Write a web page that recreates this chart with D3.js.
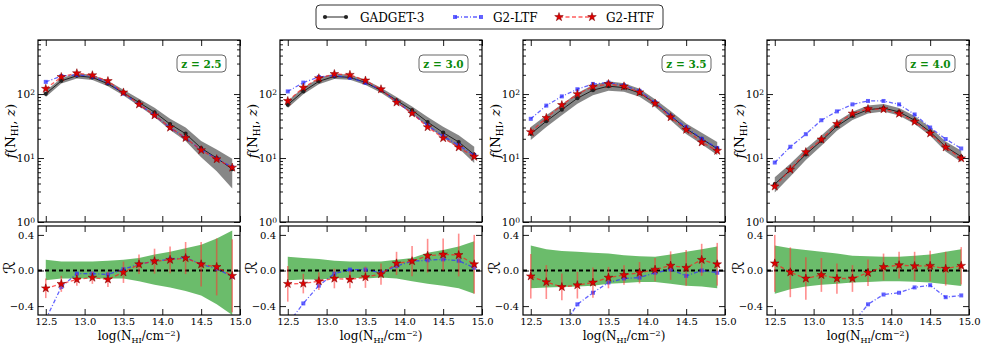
<!DOCTYPE html>
<html>
<head>
<meta charset="utf-8">
<script src="https://cdn.jsdelivr.net/npm/d3@7"></script>
<style>
  body { margin: 0; background: #fff; }
  svg { font-family: "DejaVu Serif", serif; }
</style>
</head>
<body>
<div id="chart"></div>
<script>
// ---------------------------------------------------------------
// data (one row per redshift panel)
// ---------------------------------------------------------------
var nhi = [12.5, 12.7, 12.9, 13.1, 13.3, 13.5, 13.7, 13.9, 14.1, 14.3, 14.5, 14.7, 14.9];
var zLabels = ["2.5", "3.0", "3.5", "4.0"];

// f(N_HI, z)
var gadget = [
  [101, 161, 193, 182, 145, 104, 74, 52, 34, 24, 14.3, 10, 6.7],
  [68, 110, 158, 189, 182, 152, 114, 80, 56, 36.5, 25, 17.8, 11.3],
  [23.9, 37.6, 57, 86, 115, 133, 126, 104, 72, 46, 28.6, 20, 14],
  [3.9, 6.5, 11.4, 18.6, 31.4, 45.5, 57, 60.5, 52.5, 39, 25.7, 15, 10.5]
];
var ltf = [
  [155, 191, 200, 188, 152, 102, 69, 46.5, 29.8, 20.5, 13.3, 9.8, 7.2],
  [110, 151, 185, 196, 180, 150, 117, 76, 50, 32.3, 21.9, 15.8, 11],
  [41, 66, 92, 119, 144, 151, 137, 112, 74, 45.5, 30.3, 20, 14.4],
  [8.5, 15, 23.6, 39, 53.6, 69, 78, 78, 69, 48, 30, 19.8, 14.1]
];
var htf = [
  [121, 185, 212, 197, 160, 106, 69, 46.5, 30, 20.6, 13.3, 9.6, 7.1],
  [78, 126, 177, 206, 200, 163, 119, 74, 50, 30.4, 20.5, 14.7, 10.5],
  [25.5, 42.5, 67.5, 100, 130.5, 143.6, 132, 106.6, 71.3, 43.5, 27.7, 17.6, 13],
  [3.6, 6.6, 12.4, 19.5, 34.2, 49.6, 58.4, 58, 49.4, 37, 24.3, 14.7, 9.9]
];

// relative error of GADGET-3 (green band below, grey band above)
var errHi = [
  [0.12, 0.10, 0.10, 0.10, 0.11, 0.12, 0.14, 0.18, 0.21, 0.25, 0.29, 0.36, 0.45],
  [0.155, 0.14, 0.13, 0.11, 0.10, 0.10, 0.10, 0.12, 0.14, 0.20, 0.23, 0.27, 0.33],
  [0.28, 0.24, 0.22, 0.21, 0.20, 0.19, 0.17, 0.16, 0.155, 0.18, 0.21, 0.24, 0.27],
  [0.28, 0.25, 0.23, 0.21, 0.19, 0.165, 0.16, 0.155, 0.155, 0.165, 0.18, 0.21, 0.24]
];
var errLo = [
  [-0.11, -0.09, -0.09, -0.09, -0.09, -0.09, -0.12, -0.16, -0.19, -0.23, -0.28, -0.38, -0.5],
  [-0.11, -0.10, -0.10, -0.09, -0.08, -0.09, -0.08, -0.09, -0.12, -0.15, -0.17, -0.20, -0.26],
  [-0.20, -0.19, -0.185, -0.18, -0.17, -0.15, -0.14, -0.13, -0.13, -0.15, -0.17, -0.18, -0.20],
  [-0.26, -0.21, -0.18, -0.16, -0.15, -0.135, -0.13, -0.12, -0.12, -0.125, -0.135, -0.155, -0.175]
];

// residuals R
var rLtf = [
  [-0.55, -0.185, -0.035, -0.035, -0.045, 0.015, 0.07, 0.105, 0.125, 0.145, 0.07, 0.02, -0.07],
  [-0.6, -0.37, -0.17, -0.035, 0.01, 0.01, -0.025, 0.05, 0.105, 0.115, 0.125, 0.11, 0.03],
  [-0.72, -0.75, -0.65, -0.38, -0.25, -0.135, -0.09, -0.08, -0.025, 0.01, -0.06, 0.0, -0.025],
  [-1.18, -1.3, -1.07, -1.1, -0.7, -0.6, -0.38, -0.27, -0.25, -0.19, -0.165, -0.30, -0.28]
];
var rHtf = [
  [-0.20, -0.15, -0.10, -0.08, -0.10, -0.02, 0.07, 0.105, 0.12, 0.14, 0.07, 0.04, -0.06],
  [-0.15, -0.147, -0.12, -0.09, -0.10, -0.075, -0.04, 0.08, 0.105, 0.166, 0.18, 0.174, 0.07],
  [-0.065, -0.13, -0.185, -0.165, -0.135, -0.08, -0.05, -0.025, 0.01, 0.055, 0.03, 0.12, 0.07],
  [0.08, -0.02, -0.09, -0.05, -0.09, -0.09, -0.025, 0.04, 0.06, 0.05, 0.053, 0.02, 0.053]
];
var rHtfErr = [
  [0.11, 0.09, 0.07, 0.07, 0.085, 0.12, 0.11, 0.14, 0.15, 0.18, 0.25, 0.32, 0.41],
  [0.20, 0.11, 0.10, 0.11, 0.10, 0.12, 0.12, 0.13, 0.17, 0.19, 0.18, 0.24, 0.33],
  [0.25, 0.19, 0.15, 0.15, 0.17, 0.12, 0.11, 0.12, 0.13, 0.16, 0.20, 0.18, 0.24],
  [0.32, 0.28, 0.24, 0.19, 0.17, 0.15, 0.15, 0.15, 0.15, 0.16, 0.17, 0.19, 0.21]
];

var xTicks = [12.5, 13.0, 13.5, 14.0, 14.5, 15.0];
var logTicks = [1, 10, 100];
var logMinor = [2, 3, 4, 5, 6, 7, 8, 9, 20, 30, 40, 50, 60, 70, 80, 90, 200, 300, 400, 500, 600, 700];
var rTicks = [-0.4, 0.0, 0.4];

// ---------------------------------------------------------------
// canvas + layout
// ---------------------------------------------------------------
var width = 981, height = 347;
var panelLeft = [38, 280, 523, 767], panelW = 202;
var topBox = [40, 222], botBox = [226, 315];

var blue = "#2f2fff", red = "#ff1a1a", green = "#2ca02c";

var svg = d3.select("#chart").append("svg")
    .attr("width", width)
    .attr("height", height);

var star = d3.symbol().type(d3.symbolStar).size(23);
var square = d3.symbol().type(d3.symbolSquare).size(16);

function inward(g) {
  g.select(".domain").remove();
  g.selectAll(".tick line").attr("stroke", "#000").attr("stroke-width", 0.9);
  g.selectAll(".tick text").attr("fill", "#000");
}

zLabels.forEach(function(zl, i) {
  var left = panelLeft[i], right = left + panelW;
  var x = d3.scaleLinear().domain([12.4, 15.0]).range([left, right]);
  var yTop = d3.scaleLog().domain([1, 700]).range([topBox[1], topBox[0]]);
  var yBot = d3.scaleLinear().domain([-0.5, 0.5]).range([botBox[1], botBox[0]]);

  var defs = svg.append("defs");
  defs.append("clipPath").attr("id", "ct" + i).append("rect")
      .attr("x", left).attr("y", topBox[0]).attr("width", panelW).attr("height", topBox[1] - topBox[0]);
  defs.append("clipPath").attr("id", "cb" + i).append("rect")
      .attr("x", left).attr("y", botBox[0]).attr("width", panelW).attr("height", botBox[1] - botBox[0]);

  // ---------------- upper panel ----------------
  var gt = svg.append("g").attr("clip-path", "url(#ct" + i + ")");

  gt.append("path")
      .datum(nhi)
      .attr("fill", "#7a7a7a")
      .attr("opacity", 0.9)
      .attr("d", d3.area()
        .x(function(d) { return x(d); })
        .y0(function(d, j) { return yTop(Math.max(gadget[i][j] * (1 + errLo[i][j]), 1)); })
        .y1(function(d, j) { return yTop(gadget[i][j] * (1 + errHi[i][j])); }));

  var lineOf = function(arr) {
    return d3.line().x(function(d) { return x(d); }).y(function(d, j) { return yTop(arr[j]); });
  };

  gt.append("path").datum(nhi)
      .attr("fill", "none").attr("stroke", "#222").attr("stroke-width", 1)
      .attr("d", lineOf(gadget[i]));
  gt.selectAll(".gdot").data(nhi).enter().append("circle")
      .attr("cx", function(d) { return x(d); })
      .attr("cy", function(d, j) { return yTop(gadget[i][j]); })
      .attr("r", 2.1)
      .attr("fill", "#222");

  gt.append("path").datum(nhi)
      .attr("fill", "none").attr("stroke", blue).attr("stroke-width", 1.3)
      .attr("stroke-dasharray", "4,2,1,2").attr("opacity", 0.75)
      .attr("d", lineOf(ltf[i]));
  gt.selectAll(".ldot").data(nhi).enter().append("path")
      .attr("d", square)
      .attr("transform", function(d, j) { return "translate(" + x(d) + "," + yTop(ltf[i][j]) + ")"; })
      .attr("fill", blue).attr("opacity", 0.75);

  gt.append("path").datum(nhi)
      .attr("fill", "none").attr("stroke", red).attr("stroke-width", 1.3)
      .attr("stroke-dasharray", "4,2.5").attr("opacity", 0.7)
      .attr("d", lineOf(htf[i]));
  gt.selectAll(".hdot").data(nhi).enter().append("path")
      .attr("d", star)
      .attr("transform", function(d, j) { return "translate(" + x(d) + "," + yTop(htf[i][j]) + ")"; })
      .attr("fill", "#e00000").attr("stroke", "#700").attr("stroke-width", 0.5);

  // axes of upper panel
  var ax = svg.append("g").attr("transform", "translate(" + left + ",0)")
      .call(d3.axisLeft(yTop).tickValues(logTicks).tickSize(-6).tickPadding(3)
        .tickFormat(function() { return "10"; }))
      .call(inward);
  ax.selectAll(".tick text")
      .attr("font-size", 10.5)
      .attr("font-family", "DejaVu Serif")
      .each(function(d) {
        d3.select(this).append("tspan").attr("dy", "-0.45em").attr("font-size", 7.5)
          .text(Math.round(Math.log10(d)));
      });
  svg.append("g").attr("transform", "translate(" + left + ",0)")
      .call(d3.axisLeft(yTop).tickValues(logMinor).tickSize(-3).tickFormat(""))
      .call(inward);
  svg.append("g").attr("transform", "translate(" + right + ",0)")
      .call(d3.axisRight(yTop).tickValues(logTicks).tickSize(-6).tickFormat(""))
      .call(inward);
  svg.append("g").attr("transform", "translate(" + right + ",0)")
      .call(d3.axisRight(yTop).tickValues(logMinor).tickSize(-3).tickFormat(""))
      .call(inward);
  svg.append("g").attr("transform", "translate(0," + topBox[0] + ")")
      .call(d3.axisTop(x).tickValues(xTicks).tickSize(-6).tickFormat(""))
      .call(inward);
  svg.append("g").attr("transform", "translate(0," + topBox[1] + ")")
      .call(d3.axisBottom(x).tickValues(xTicks).tickSize(-6).tickFormat(""))
      .call(inward);
  svg.append("rect")
      .attr("x", left).attr("y", topBox[0])
      .attr("width", panelW).attr("height", topBox[1] - topBox[0])
      .attr("fill", "none").attr("stroke", "#000").attr("stroke-width", 1.2);

  // redshift box
  var zb = svg.append("g").attr("transform", "translate(" + (right - 63) + ",55)");
  zb.append("rect").attr("width", 49).attr("height", 17).attr("rx", 4)
      .attr("fill", "#fff").attr("stroke", "#555").attr("stroke-width", 0.9);
  zb.append("text").attr("x", 24.5).attr("y", 12.5)
      .attr("text-anchor", "middle").attr("font-size", 10.5).attr("font-weight", "bold")
      .attr("fill", "#0a8a0a").text("z = " + zl);

  // y label
  var yl = svg.append("text")
      .attr("transform", "translate(" + (left - 23) + "," + ((topBox[0] + topBox[1]) / 2) + ") rotate(-90)")
      .attr("text-anchor", "middle").attr("font-size", 13.5);
  yl.append("tspan").attr("font-style", "italic").text("f");
  yl.append("tspan").text("(N");
  yl.append("tspan").attr("font-size", 9).attr("dy", 3).text("HI");
  yl.append("tspan").attr("dy", -3).text(", ");
  yl.append("tspan").attr("font-style", "italic").text("z");
  yl.append("tspan").text(")");

  // ---------------- lower panel ----------------
  var gb = svg.append("g").attr("clip-path", "url(#cb" + i + ")");

  gb.append("path").datum(nhi)
      .attr("fill", green).attr("opacity", 0.7)
      .attr("d", d3.area()
        .x(function(d) { return x(d); })
        .y0(function(d, j) { return yBot(errLo[i][j]); })
        .y1(function(d, j) { return yBot(errHi[i][j]); }));

  gb.append("path").datum([12.4, 15.0])
      .attr("fill", "none").attr("stroke", "#000").attr("stroke-width", 2)
      .attr("stroke-dasharray", "4,3")
      .attr("d", d3.line().x(function(d) { return x(d); }).y(function() { return yBot(0); }));

  var rline = function(arr) {
    return d3.line().x(function(d) { return x(d); }).y(function(d, j) { return yBot(arr[j]); });
  };

  gb.append("path").datum(nhi)
      .attr("fill", "none").attr("stroke", blue).attr("stroke-width", 1.3)
      .attr("stroke-dasharray", "4,2,1,2").attr("opacity", 0.75)
      .attr("d", rline(rLtf[i]));
  gb.selectAll(".lr").data(nhi).enter().append("path")
      .attr("d", square)
      .attr("transform", function(d, j) { return "translate(" + x(d) + "," + yBot(rLtf[i][j]) + ")"; })
      .attr("fill", blue).attr("opacity", 0.75);

  gb.selectAll(".eb").data(nhi).enter().append("line")
      .attr("x1", function(d) { return x(d); })
      .attr("x2", function(d) { return x(d); })
      .attr("y1", function(d, j) { return yBot(rHtf[i][j] + rHtfErr[i][j]); })
      .attr("y2", function(d, j) { return yBot(rHtf[i][j] - rHtfErr[i][j]); })
      .attr("stroke", "#f33").attr("stroke-width", 1.6).attr("opacity", 0.55);

  gb.append("path").datum(nhi)
      .attr("fill", "none").attr("stroke", red).attr("stroke-width", 1.3)
      .attr("stroke-dasharray", "4,2.5").attr("opacity", 0.7)
      .attr("d", rline(rHtf[i]));
  gb.selectAll(".hr").data(nhi).enter().append("path")
      .attr("d", star)
      .attr("transform", function(d, j) { return "translate(" + x(d) + "," + yBot(rHtf[i][j]) + ")"; })
      .attr("fill", "#e00000").attr("stroke", "#700").attr("stroke-width", 0.5);

  // axes of lower panel
  svg.append("g").attr("transform", "translate(" + left + ",0)")
      .call(d3.axisLeft(yBot).tickValues(rTicks).tickSize(-6).tickPadding(4).tickFormat(d3.format(".1f")))
      .call(inward)
      .selectAll("text").attr("font-size", 10).attr("font-family", "DejaVu Serif");
  svg.append("g").attr("transform", "translate(" + right + ",0)")
      .call(d3.axisRight(yBot).tickValues(rTicks).tickSize(-6).tickFormat(""))
      .call(inward);
  svg.append("g").attr("transform", "translate(0," + botBox[0] + ")")
      .call(d3.axisTop(x).tickValues(xTicks).tickSize(-6).tickFormat(""))
      .call(inward);
  svg.append("g").attr("transform", "translate(0," + botBox[1] + ")")
      .call(d3.axisBottom(x).tickValues(xTicks).tickSize(-6).tickPadding(3).tickFormat(d3.format(".1f")))
      .call(inward)
      .selectAll("text").attr("font-size", 10).attr("font-family", "DejaVu Serif");
  svg.append("rect")
      .attr("x", left).attr("y", botBox[0])
      .attr("width", panelW).attr("height", botBox[1] - botBox[0])
      .attr("fill", "none").attr("stroke", "#000").attr("stroke-width", 1.2);

  svg.append("text")
      .attr("transform", "translate(" + (left - 23) + "," + ((botBox[0] + botBox[1]) / 2 - 3) + ") rotate(-90)")
      .attr("text-anchor", "middle").attr("font-size", 16)
      .attr("font-family", "DejaVu Sans, DejaVu Serif")
      .text("\u211B");

  // x label
  var xl = svg.append("text")
      .attr("x", (left + right) / 2).attr("y", 340)
      .attr("text-anchor", "middle").attr("font-size", 12);
  xl.append("tspan").text("log(N");
  xl.append("tspan").attr("font-size", 8).attr("dy", 3).text("HI");
  xl.append("tspan").attr("dy", -3).text("/cm");
  xl.append("tspan").attr("font-size", 8).attr("dy", -4).text("\u22122");
  xl.append("tspan").attr("dy", 4).text(")");
});

// ---------------------------------------------------------------
// legend
// ---------------------------------------------------------------
var legend = svg.append("g");
legend.append("rect")
    .attr("x", 316).attr("y", 5).attr("width", 347).attr("height", 24).attr("rx", 4)
    .attr("fill", "#fff").attr("stroke", "#333").attr("stroke-width", 1);

var legItems = [
  {name: "GADGET-3", x0: 325, x1: 346, tx: 360},
  {name: "G2-LTF", x0: 455, x1: 481, tx: 493},
  {name: "G2-HTF", x0: 559, x1: 592, tx: 606}
];
var ly = 17;
legItems.forEach(function(it, k) {
  var ln = legend.append("line")
      .attr("x1", it.x0).attr("x2", it.x1).attr("y1", ly).attr("y2", ly)
      .attr("stroke-width", k === 0 ? 1 : 1.3);
  if (k === 0) {
    ln.attr("stroke", "#222");
    [it.x0, it.x1].forEach(function(px) {
      legend.append("circle").attr("cx", px).attr("cy", ly).attr("r", 2.1).attr("fill", "#222");
    });
  } else if (k === 1) {
    ln.attr("stroke", blue).attr("stroke-dasharray", "4,2,1,2").attr("opacity", 0.75);
    [it.x0, it.x1].forEach(function(px) {
      legend.append("path").attr("d", square).attr("transform", "translate(" + px + "," + ly + ")")
        .attr("fill", blue).attr("opacity", 0.75);
    });
  } else {
    ln.attr("stroke", red).attr("stroke-dasharray", "4,2.5").attr("opacity", 0.7);
    [it.x0, it.x1].forEach(function(px) {
      legend.append("path").attr("d", star).attr("transform", "translate(" + px + "," + ly + ")")
        .attr("fill", "#e00000").attr("stroke", "#700").attr("stroke-width", 0.5);
    });
  }
  legend.append("text").attr("x", it.tx).attr("y", ly + 4.5)
      .attr("font-size", 12).text(it.name);
});
</script>
</body>
</html>
